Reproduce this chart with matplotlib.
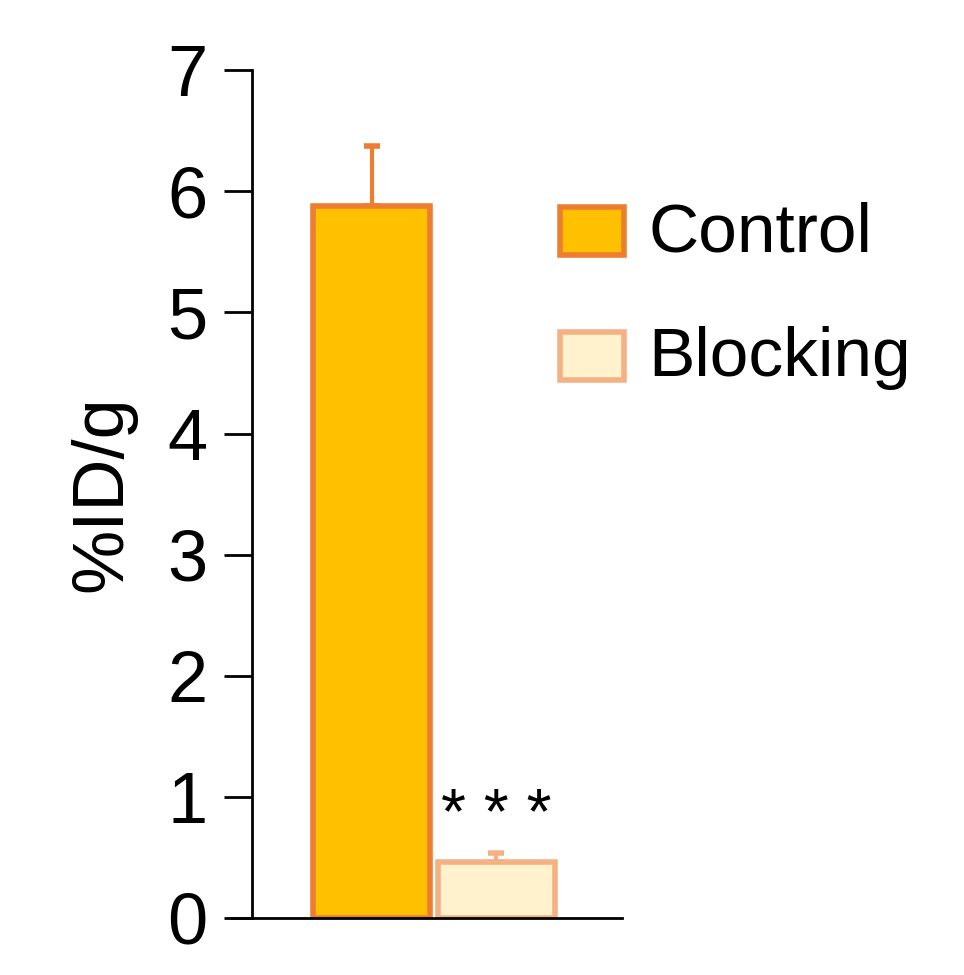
import matplotlib
matplotlib.use("Agg")
import matplotlib.pyplot as plt
from matplotlib.patches import Rectangle

plt.rcParams['font.family'] = ['Liberation Sans', 'DejaVu Sans']

groups = ["Control", "Blocking"]
values = [5.88, 0.46]
errors = [0.49, 0.08]
faces = ["#FFC000", "#FFF2CC"]
edges = ["#ED7D31", "#F4B183"]
positions = [0.358, 0.677]

fig = plt.figure(figsize=(9.64, 9.75), dpi=100)
ax = fig.add_axes([232 / 964, 0.0585, 390 / 964, 0.928 - 0.0585])
for p, v, e, fc, ec in zip(positions, values, errors, faces, edges):
    ax.bar(p, v, width=0.30, color=fc, edgecolor=ec, linewidth=4, zorder=2)
    ax.errorbar(p, v, yerr=[[0], [e]], ecolor=ec, elinewidth=3, capsize=6, capthick=4, zorder=1)
ax.text(positions[1], values[1] + errors[1] + 0.05, "* * *", ha="center", va="bottom", fontsize=46)
ax.set_xlim(0, 1)
ax.set_ylim(0, 7)
ax.spines['left'].set_position(('data', 20 / 390))
ax.spines['top'].set_visible(False)
ax.spines['right'].set_visible(False)
for s in ['left', 'bottom']:
    ax.spines[s].set_linewidth(2)
ax.set_xticks([])
ax.set_yticks(range(8))
ax.tick_params(axis='y', length=20, width=2, labelsize=52, pad=12)
ax.set_ylabel("%ID/g", fontsize=52, labelpad=22)

W, H = 964, 975
for (y0, fc, ec, name) in [(205, faces[0], edges[0], groups[0]), (330, faces[1], edges[1], groups[1])]:
    fig.patches.append(Rectangle((560 / W, 1 - (y0 + 50) / H), 64 / W, 48 / H, transform=fig.transFigure,
                                 facecolor=fc, edgecolor=ec, linewidth=4))
    fig.text(648 / W, 1 - (y0 + 28) / H, name, fontsize=50, va="center", ha="left")

fig.savefig("out.png", dpi=100)
